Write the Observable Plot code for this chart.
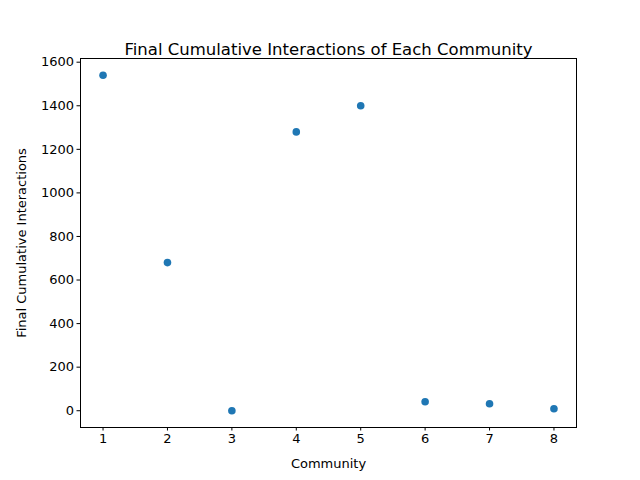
<!DOCTYPE html>
<html>
<head>
<meta charset="utf-8">
<script src="https://cdn.jsdelivr.net/npm/d3@7"></script>
<script src="https://cdn.jsdelivr.net/npm/@observablehq/plot@0.6"></script>
<style>
  body { margin: 0; background: white; }
</style>
</head>
<body>
<div id="chart"></div>
<script>
const communities = [1, 2, 3, 4, 5, 6, 7, 8];
const interactions = [1540, 680, 0, 1280, 1400, 41, 32, 9];
const xTicks = [1, 2, 3, 4, 5, 6, 7, 8];
const yTicks = [0, 200, 400, 600, 800, 1000, 1200, 1400, 1600];

const data = communities.map((c, i) => ({ community: c, value: interactions[i] }));

const chart = Plot.plot({
  width: 640,
  height: 480,
  marginLeft: 80,
  marginRight: 64,
  marginTop: 58,
  marginBottom: 53,
  style: { fontFamily: "DejaVu Sans", fontSize: 13, color: "black", background: "white" },
  x: { domain: [0.65, 8.35] },
  y: { domain: [-77, 1617] },
  marks: [
    Plot.frame({ stroke: "black" }),
    Plot.axisX({ ticks: xTicks, tickSize: 3.5, tickPadding: 3, fontSize: 13, tickFormat: d => String(d),
      label: "Community", labelAnchor: "center", labelArrow: "none", labelOffset: 40 }),
    Plot.axisY({ ticks: yTicks, tickSize: 3.5, tickPadding: 3, fontSize: 13, tickFormat: d => String(d),
      label: "Final Cumulative Interactions", labelAnchor: "center", labelArrow: "none", labelOffset: 64 }),
    Plot.dot(data, { x: "community", y: "value", r: 3.8, fill: "#1f77b4", stroke: "none" }),
    Plot.text(["Final Cumulative Interactions of Each Community"], {
      frameAnchor: "top", dy: -15, fontSize: 16.5, fill: "black", text: d => d
    })
  ]
});

d3.select('#chart').append(() => chart);
</script>
</body>
</html>
